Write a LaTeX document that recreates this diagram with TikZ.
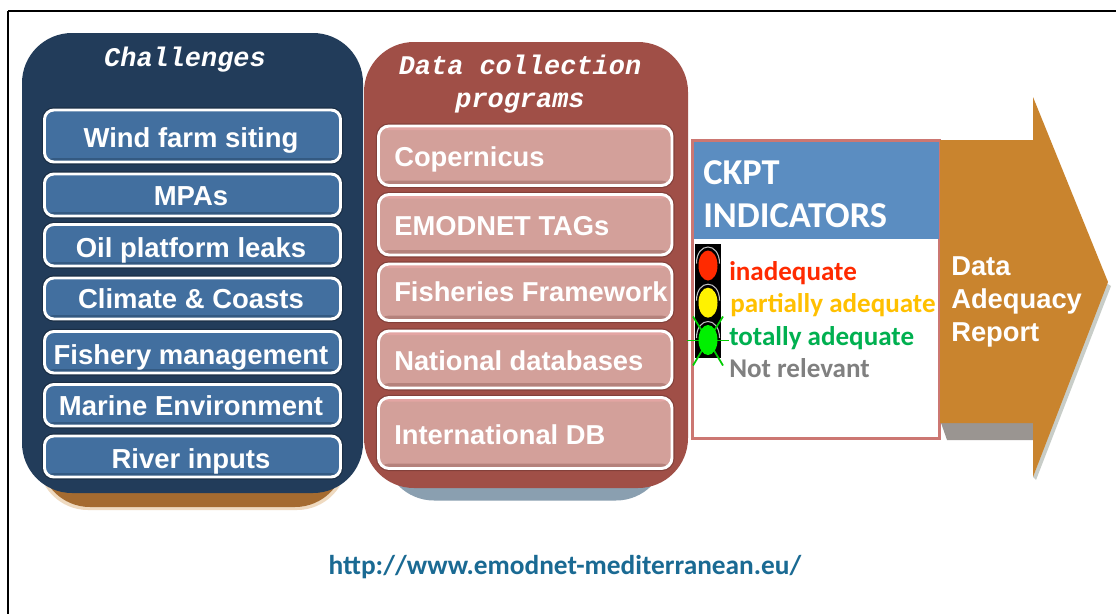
\documentclass[tikz,border=0pt]{standalone}
\usepackage{fontspec}
\setmainfont{Liberation Sans}
\newfontfamily\carl{Carlito}
\newfontfamily\monof{Liberation Mono}
\usetikzlibrary{calc}
\definecolor{navy}{HTML}{223C5A}
\definecolor{navybox}{HTML}{426F9F}
\definecolor{navyedge}{HTML}{345A82}
\definecolor{brick}{HTML}{A04F47}
\definecolor{pinkbox}{HTML}{D3A09A}
\definecolor{pinkedge}{HTML}{B5827C}
\definecolor{pinktop}{HTML}{E3A5A3}
\definecolor{ochre}{HTML}{C9842E}
\definecolor{ochredark}{HTML}{A56B30}
\definecolor{greyblue}{HTML}{8A9FB0}
\definecolor{ckblue}{HTML}{5B8DC1}
\definecolor{ckedge}{HTML}{CC7772}
\definecolor{urlblue}{HTML}{1A6A93}
\definecolor{shadowgrey}{HTML}{9A9591}
\definecolor{lightshadow}{HTML}{C8CDC8}
\definecolor{okgreen}{HTML}{00B050}
\definecolor{amber}{HTML}{FFC000}
\definecolor{brightgreen}{HTML}{00F000}
\definecolor{lampred}{HTML}{FF2A00}
\tikzset{
  x=0.75pt,y=-0.75pt,
  panel/.style={rounded corners=37.5pt,draw=none},
  navitem/.style={draw=white,line width=2.2pt,rounded corners=7pt,fill=navybox,
    preaction={draw=black!45!navy,line width=4pt,opacity=.5},
    path picture={\fill[navyedge] ($(path picture bounding box.south west)+(0,-4)$) rectangle (path picture bounding box.south east);}},
  pinkitem/.style={draw=white,line width=2.2pt,rounded corners=8pt,fill=pinkbox,
    preaction={draw=black!35!brick,line width=4pt,opacity=.5},
    path picture={\fill[pinkedge] ($(path picture bounding box.south west)+(0,-5)$) rectangle (path picture bounding box.south east);
                  \fill[pinktop] ($(path picture bounding box.north west)+(0,4)$) rectangle (path picture bounding box.north east);}},
  itemtext/.style={text=white,font=\bfseries\fontsize{20.6}{24}\selectfont,inner sep=0pt,anchor=base},
  pinktext/.style={text=white,font=\bfseries\fontsize{20.5}{24}\selectfont,inner sep=0pt,anchor=base west},
  titletext/.style={text=white,font=\monof\bfseries\itshape\fontsize{20.2}{24.5}\selectfont,inner sep=0pt,align=center},
  legendtext/.style={font=\carl\bfseries\fontsize{20.3}{22}\selectfont,inner sep=0pt,anchor=base west},
  ckpttext/.style={text=white,font=\carl\bfseries\fontsize{27.3}{31}\selectfont,inner sep=0pt,anchor=base west},
  arrowtext/.style={text=white,font=\bfseries\fontsize{20.5}{25}\selectfont,inner sep=0pt,anchor=base west},
}
\begin{document}
\begin{tikzpicture}
\useasboundingbox (0,0) rectangle (1116,614);
\fill[white] (0,0) rectangle (1116,614);
% frame
\draw[black,line width=0.9pt] (8,11) -- (1116,11);
\draw[black,line width=1.4pt] (8,11.5) -- (22,11.5);
\draw[black,line width=1.4pt] (8,10.5) -- (8,614);
% navy panel
\fill[ochre!30!white,rounded corners=37.5pt] (38,420) rectangle (347,510);
\fill[ochredark,rounded corners=37.5pt] (40,420) rectangle (345,507);
\fill[navy,panel] (22,33) rectangle (363,493);
\node[titletext] (tch) at (185,60) {Challenges};
\foreach \nm/\ya/\yb/\txt/\bl in {
  a1/110/162/Wind farm siting/147,
  a2/174/216/MPAs/205,
  a3/224.5/266/Oil platform leaks/257,
  a4/278/319/Climate \& Coasts/308,
  a5/331.5/373/Fishery management/364,
  a6/384.5/426/Marine Environment/415,
  a7/436/477/River inputs/468}{
  \path[navitem] (44.5,\ya) rectangle (340.5,\yb);
  \node[itemtext] (\nm) at (191,\bl) {\txt};
}
% brick panel
\fill[greyblue,rounded corners=37.5pt] (384,420) rectangle (666,500.5);
\fill[brick,panel] (364,42) rectangle (688,488);
\node[titletext] (tdc) at (520,84) {Data collection\\programs};
\foreach \nm/\ya/\yb/\txt/\bl in {
  b1/126/185.5/Copernicus/166,
  b2/194.5/255/EMODNET TAGs/235,
  b3/264/320.5/Fisheries Framework/301,
  b4/331/388/National databases/370,
  b5/397.5/468.5/International DB/444}{
  \path[pinkitem] (378.5,\ya) rectangle (672,\yb);
  \node[pinktext] (\nm) at (394,\bl) {\txt};
}
% arrow shadow
\fill[shadowgrey] (940,420) -- (947,440) -- (1036,440) -- (1036,420) -- cycle;
\fill[lightshadow] (1106,283) -- (1111,286) -- (1036,480) -- (1033,477) -- cycle;
% CKPT box
\draw[ckedge,line width=1.6pt,fill=white] (692.5,140.5) rectangle (939.5,438.5);
\fill[ckblue] (694,142) rectangle (939,239);
\node[ckpttext] (c1) at (703,184) {CKPT};
\node[ckpttext] (c2) at (703,227) {INDICATORS};
% traffic light
\fill[black] (695,244) rectangle (721,358);
\foreach \yy in {265.5,302.7,340}{
  \draw[white!75!black,line width=0.8pt] (696.5,\yy-2) .. controls (696.5,\yy-24) and (719.5,\yy-24) .. (719.5,\yy-2);
}
\foreach \dx/\dy in {-21/0,21/0,-15/-24,15/-24,-15/25,15/25}{
  \draw[brightgreen!85!black,line width=1.3pt] (708,340.5) -- ++(\dx,\dy);
}
\fill[lampred] (708,265.5) ellipse[x radius=9.5,y radius=15];
\fill[yellow] (708,302.7) ellipse[x radius=9.5,y radius=15];
\fill[brightgreen] (708,340) ellipse[x radius=9.5,y radius=15];
% legend
\node[legendtext,text=lampred] (t1) at (729,280.5) {inadequate};
\node[legendtext,text=amber] (t2) at (730,312.5) {partially adequate};
\node[legendtext,text=okgreen] (t3) at (729,345.5) {totally adequate};
\node[legendtext,text=gray] (t4) at (729,377) {Not relevant};
% arrow
\fill[ochre] (940,140) -- (1033,140) -- (1033,97) -- (1108,282) -- (1033,477) -- (1033,423) -- (940,423) -- cycle;
\node[arrowtext] (r1) at (951,275) {Data};
\node[arrowtext] (r2) at (951,308) {Adequacy};
\node[arrowtext] (r3) at (951,341) {Report};
% url
\node[font=\carl\bfseries\fontsize{20.5}{24}\selectfont,text=urlblue,inner sep=0pt,anchor=base] (u) at (565,574) {http://www.emodnet-mediterranean.eu/};
\end{tikzpicture}
\end{document}
